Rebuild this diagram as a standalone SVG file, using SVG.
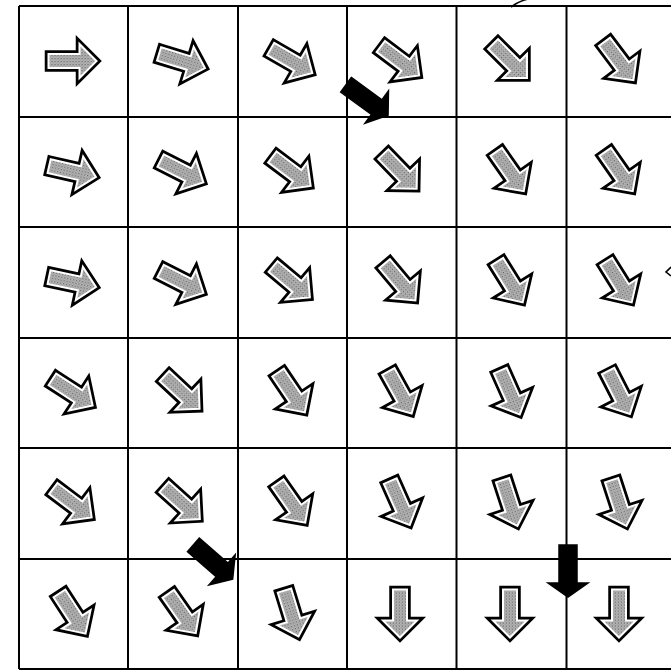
<svg xmlns="http://www.w3.org/2000/svg" xmlns:xlink="http://www.w3.org/1999/xlink" width="671" height="671" viewBox="0 0 671 671">
<style>
.grid line{stroke:#000;stroke-width:2}
.o{fill:none;stroke:#000;stroke-width:7.5;stroke-linejoin:miter}
.i{fill:url(#dots);stroke:#fff;stroke-width:2}
.blk{fill:#000;stroke:#000;stroke-width:1.5}
.mark{fill:none;stroke:#000;stroke-width:1.6}
</style>
<defs>
<pattern id="dots" width="3" height="3" patternUnits="userSpaceOnUse">
<rect width="3" height="3" fill="#bdbdbd"/>
<rect x="0" y="0" width="1.3" height="1.3" fill="#666"/>
<rect x="1.5" y="1.5" width="1.2" height="1.2" fill="#848484"/>
</pattern>
<path id="ap" d="M-24,-7 H7 V-17 L24,0 L7,17 V7 H-24 Z"/>
<g id="ga"><use href="#ap" class="o"/><use href="#ap" class="i"/></g>
<path id="bk" d="M-26,-9 H12 V-20 L26,0 L12,20 V9 H-26 Z"/>
</defs>
<rect width="671" height="671" fill="#fff"/>
<g class="grid">
<line x1="19" y1="6" x2="19" y2="669"/>
<line x1="128" y1="6" x2="128" y2="669"/>
<line x1="238" y1="6" x2="238" y2="669"/>
<line x1="347" y1="6" x2="347" y2="669"/>
<line x1="456.5" y1="6" x2="456.5" y2="669"/>
<line x1="566.5" y1="6" x2="566.5" y2="669"/>
<line x1="19" y1="6" x2="671" y2="6"/>
<line x1="19" y1="117" x2="671" y2="117"/>
<line x1="19" y1="227" x2="671" y2="227"/>
<line x1="19" y1="338" x2="671" y2="338"/>
<line x1="19" y1="448" x2="671" y2="448"/>
<line x1="19" y1="559" x2="671" y2="559"/>
<line x1="19" y1="669" x2="671" y2="669"/>
</g>
<g id="arrows">
<g id="r0c0"><use href="#ga" transform="translate(72.5,61) rotate(0)"/></g>
<g id="r0c1"><use href="#ga" transform="translate(182,61) rotate(17)"/></g>
<g id="r0c2"><use href="#ga" transform="translate(291.5,61) rotate(30)"/></g>
<g id="r0c3"><use href="#ga" transform="translate(400,61) rotate(37)"/></g>
<g id="r0c4"><use href="#ga" transform="translate(510,61) rotate(45)"/></g>
<g id="r0c5"><use href="#ga" transform="translate(619,61) rotate(53)"/></g>

<g id="r1c0"><use href="#ga" transform="translate(72.5,171.5) rotate(13)"/></g>
<g id="r1c1"><use href="#ga" transform="translate(182,171.5) rotate(27)"/></g>
<g id="r1c2"><use href="#ga" transform="translate(291.5,171.5) rotate(37)"/></g>
<g id="r1c3"><use href="#ga" transform="translate(400,171.5) rotate(46)"/></g>
<g id="r1c4"><use href="#ga" transform="translate(510,171.5) rotate(55)"/></g>
<g id="r1c5"><use href="#ga" transform="translate(619,171.5) rotate(55)"/></g>

<g id="r2c0"><use href="#ga" transform="translate(72.5,282) rotate(12)"/></g>
<g id="r2c1"><use href="#ga" transform="translate(182,282) rotate(27)"/></g>
<g id="r2c2"><use href="#ga" transform="translate(291.5,282) rotate(40)"/></g>
<g id="r2c3"><use href="#ga" transform="translate(400,282) rotate(50)"/></g>
<g id="r2c4"><use href="#ga" transform="translate(510,282) rotate(58)"/></g>
<g id="r2c5"><use href="#ga" transform="translate(619,282) rotate(58)"/></g>

<g id="r3c0"><use href="#ga" transform="translate(72.5,392.5) rotate(33)"/></g>
<g id="r3c1"><use href="#ga" transform="translate(182,392.5) rotate(43)"/></g>
<g id="r3c2"><use href="#ga" transform="translate(291.5,392.5) rotate(56)"/></g>
<g id="r3c3"><use href="#ga" transform="translate(400,392.5) rotate(61)"/></g>
<g id="r3c4"><use href="#ga" transform="translate(510,392.5) rotate(66)"/></g>
<g id="r3c5"><use href="#ga" transform="translate(619,392.5) rotate(63)"/></g>

<g id="r4c0"><use href="#ga" transform="translate(72.5,503) rotate(37)"/></g>
<g id="r4c1"><use href="#ga" transform="translate(182,503) rotate(42)"/></g>
<g id="r4c2"><use href="#ga" transform="translate(291.5,503) rotate(55)"/></g>
<g id="r4c3"><use href="#ga" transform="translate(400,503) rotate(66)"/></g>
<g id="r4c4"><use href="#ga" transform="translate(510,503) rotate(72)"/></g>
<g id="r4c5"><use href="#ga" transform="translate(619,503) rotate(72)"/></g>

<g id="r5c0"><use href="#ga" transform="translate(72.5,613.5) rotate(57)"/></g>
<g id="r5c1"><use href="#ga" transform="translate(182,613.5) rotate(55)"/></g>
<g id="r5c2"><use href="#ga" transform="translate(291.5,613.5) rotate(73)"/></g>
<g id="r5c3"><use href="#ga" transform="translate(400,613.5) rotate(90)"/></g>
<g id="r5c4"><use href="#ga" transform="translate(510,613.5) rotate(90)"/></g>
<g id="r5c5"><use href="#ga" transform="translate(619,613.5) rotate(90)"/></g>
</g>
<g id="black-arrows">
<use href="#bk" class="blk" transform="translate(367,100) rotate(36)"/>
<use href="#bk" class="blk" transform="translate(213,562) rotate(41)"/>
<use href="#bk" class="blk" transform="translate(568,571) rotate(90)"/>
</g>
<g id="marks">
<path class="mark" d="M511,7 C515,4 520,1 528,-1"/>
<polyline class="mark" points="671,267 666,272 671,276"/>
</g>
</svg>
